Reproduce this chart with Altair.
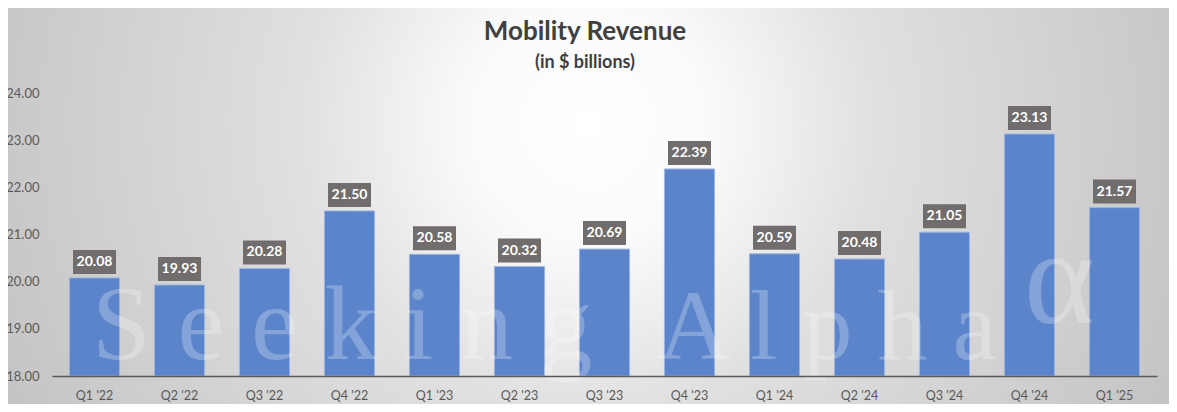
import altair as alt
import pandas as pd

quarters = ["Q1 '22", "Q2 '22", "Q3 '22", "Q4 '22", "Q1 '23", "Q2 '23", "Q3 '23",
            "Q4 '23", "Q1 '24", "Q2 '24", "Q3 '24", "Q4 '24", "Q1 '25"]
revenue = [20.08, 19.93, 20.28, 21.50, 20.58, 20.32, 20.69, 22.39, 20.59, 20.48, 21.05, 23.13, 21.57]
y_ticks = [18, 19, 20, 21, 22, 23, 24]
title_text = "Mobility Revenue"
subtitle_text = "(in $ billions)"

df = pd.DataFrame({
    "quarter": quarters,
    "revenue": revenue,
    "label": [f"{v:.2f}" for v in revenue],
})

W, H = 1105, 283
PL, PT, PR, PB = 44, 85, 12, 28
FONT = "Lato"

one = pd.DataFrame({"k": [0]})

# radial background (square so the gradient stays circular; clipped by the svg)
cx, cy, R = 536, 31, 720
bg = alt.Chart(one).mark_rect(
    fill=alt.RadialGradient(
        gradient="radial",
        x1=0.5, y1=0.5, r1=0, x2=0.5, y2=0.5, r2=0.5,
        stops=[
            alt.GradientStop(offset=0.0, color="#ffffff"),
            alt.GradientStop(offset=0.17, color="#fafafa"),
            alt.GradientStop(offset=0.40, color="#e0e0e0"),
            alt.GradientStop(offset=0.82, color="#c8c8c8"),
            alt.GradientStop(offset=1.0, color="#bebebe"),
        ],
    )
).encode(
    x=alt.value(cx - R), x2=alt.value(cx + R),
    y=alt.value(cy - R), y2=alt.value(cy + R),
)

x_enc = alt.X("quarter:N", sort=quarters,
              scale=alt.Scale(paddingInner=0.41, paddingOuter=0.205),
              axis=alt.Axis(title=None, labelAngle=0, ticks=False, labelPadding=13,
                            labelFontSize=12.5, labelColor="#595959", labelFont=FONT,
                            domainColor="#595959", domainWidth=1.5, zindex=1))
y_enc = alt.Y("revenue:Q",
              scale=alt.Scale(domain=[18, 24], zero=False, nice=False),
              axis=alt.Axis(title=None, values=y_ticks, format=".2f", grid=False,
                            domain=False, ticks=False, labelPadding=13,
                            labelFontSize=13, labelColor="#595959", labelFont=FONT,
                            zindex=1))

bars = alt.Chart(df).mark_bar(color="#5b84cb", stroke="#9db5e2", strokeWidth=1).encode(
    x=x_enc, y=y_enc, y2=alt.datum(18)
)

wm_style = dict(font="Liberation Serif", color="#ffffff", opacity=0.25,
                align="left", baseline="alphabetic")
wm1 = alt.Chart(one).mark_text(text="S e e k i n g", fontSize=106, **wm_style).encode(
    x=alt.value(40), y=alt.value(266))
wm2 = alt.Chart(one).mark_text(text="A l p h a", fontSize=100, **wm_style).encode(
    x=alt.value(606), y=alt.value(266))
wm3 = alt.Chart(one).mark_text(text="α", fontSize=135, **wm_style).encode(
    x=alt.value(972), y=alt.value(230))

boxes = alt.Chart(df).mark_rect(color="#716d6c", width=43, height=24, yOffset=-16).encode(
    x=alt.X("quarter:N", sort=quarters), y="revenue:Q"
)
labels = alt.Chart(df).mark_text(
    color="#ffffff", font=FONT, fontWeight="bold", fontSize=14, yOffset=-16,
    baseline="middle",
).encode(x=alt.X("quarter:N", sort=quarters), y="revenue:Q", text="label:N")

title = alt.Chart(one).mark_text(
    text=title_text, font=FONT, fontSize=26, fontWeight="bold", color="#404040",
    align="center", baseline="alphabetic",
).encode(x=alt.value(533), y=alt.value(-53))
subtitle = alt.Chart(one).mark_text(
    text=subtitle_text, font=FONT, fontSize=18, fontWeight="bold", color="#404040",
    align="center", baseline="alphabetic",
).encode(x=alt.value(533), y=alt.value(-25))

chart = alt.layer(bg, bars, wm1, wm2, wm3, boxes, labels, title, subtitle).properties(
    width=W, height=H,
    autosize=alt.AutoSizeParams(type="none"),
    padding={"left": PL, "top": PT, "right": PR, "bottom": PB},
).configure_view(stroke=None).configure(background="#d0d0d0")

chart.save("out.html", embed_options={"renderer": "svg", "actions": False})
